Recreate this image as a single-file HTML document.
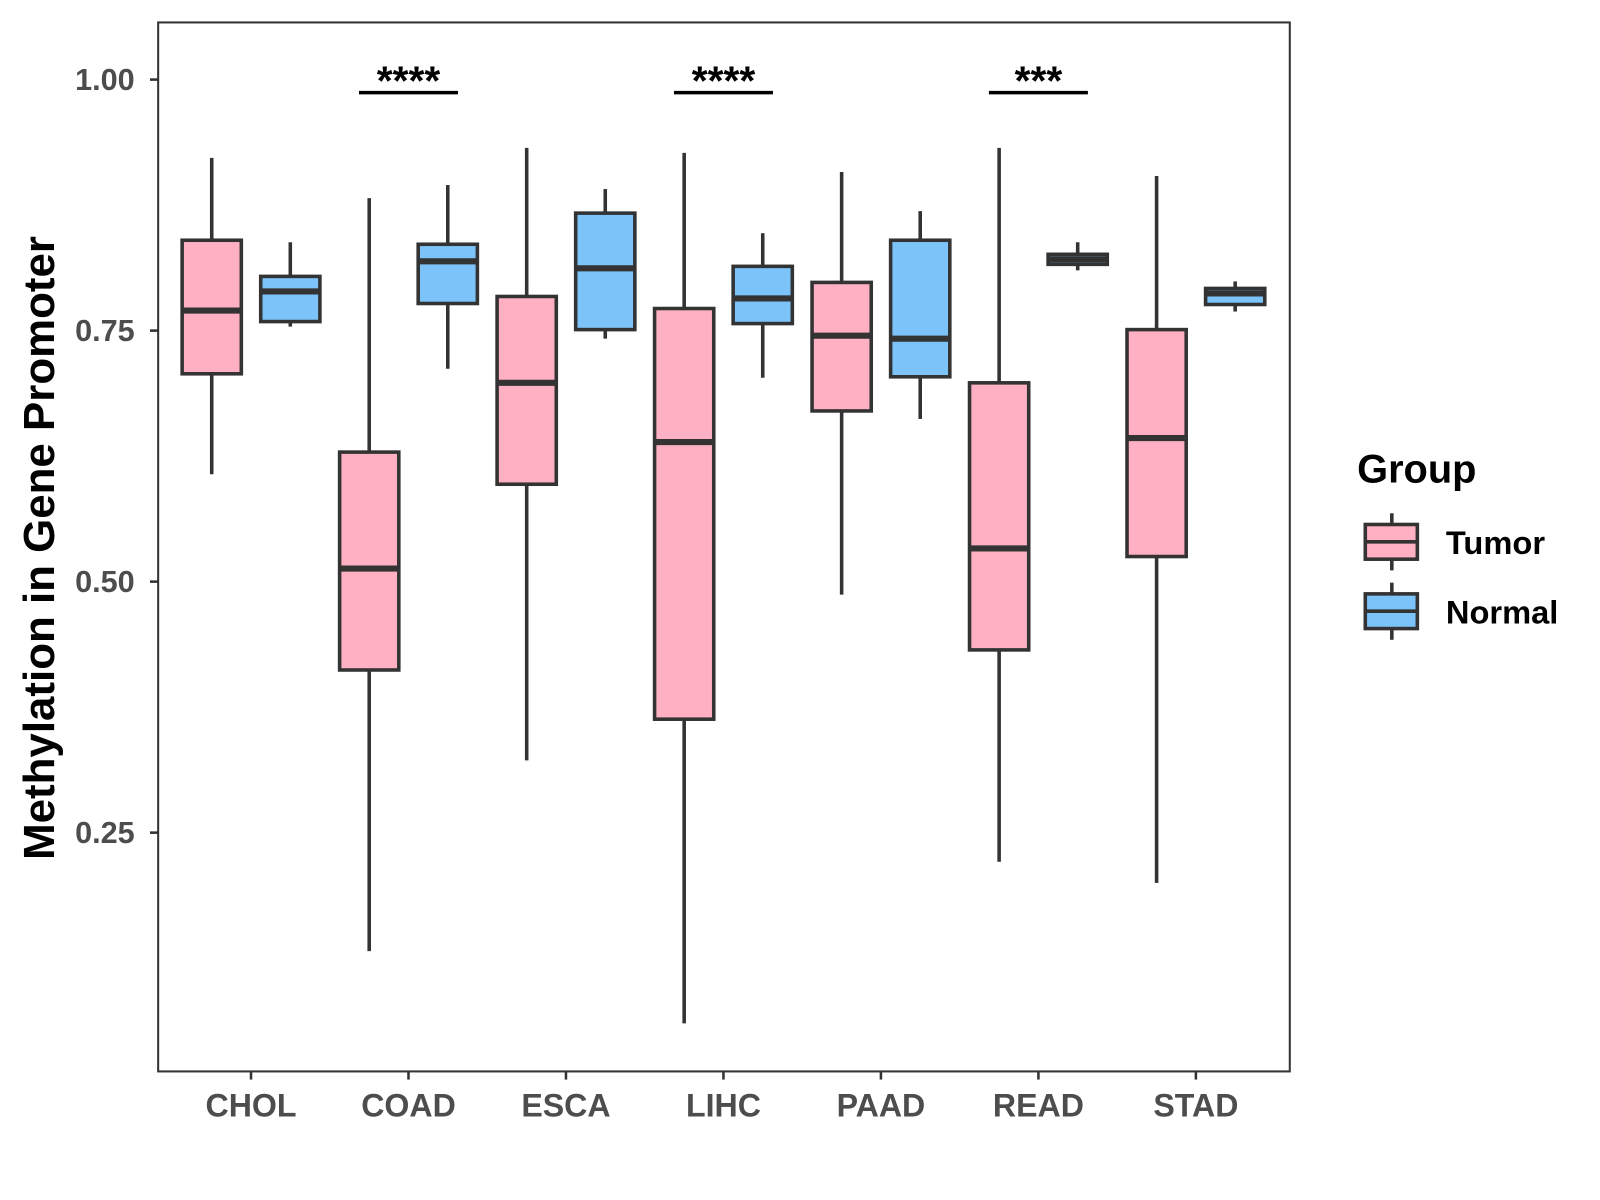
<!DOCTYPE html>
<html><head><meta charset="utf-8"><style>
html,body{margin:0;padding:0;background:#fff;}
svg{display:block;font-family:"Liberation Sans",Arial,sans-serif;}
</style></head><body>
<svg id="chart" width="1600" height="1200" viewBox="0 0 1600 1200">
<g transform="scale(1.0204)">
<rect x="155" y="22" width="1109" height="1028" fill="#fff" stroke="#333" stroke-width="2"/>
<g id="marks"></g>
<g id="axes"></g>
<text x="0" y="0" transform="translate(53,537) rotate(-90)" text-anchor="middle" font-size="43" font-weight="bold" fill="#000">Methylation in Gene Promoter</text>
<g>
<text x="1330" y="473" font-size="39" font-weight="bold" fill="#000">Group</text>
<g>
<line x1="1364" y1="503" x2="1364" y2="559" stroke="#333" stroke-width="3.5"/>
<rect x="1338" y="514" width="51" height="34" fill="#FFB0C3" stroke="#333" stroke-width="3.5"/>
<line x1="1338" y1="531" x2="1389" y2="531" stroke="#333" stroke-width="3.5"/>
<text x="1417" y="543" font-size="32" font-weight="bold" fill="#000">Tumor</text>
</g>
<g>
<line x1="1364" y1="571" x2="1364" y2="627" stroke="#333" stroke-width="3.5"/>
<rect x="1338" y="582" width="51" height="34" fill="#7BC3F8" stroke="#333" stroke-width="3.5"/>
<line x1="1338" y1="599" x2="1389" y2="599" stroke="#333" stroke-width="3.5"/>
<text x="1417" y="611" font-size="32" font-weight="bold" fill="#000">Normal</text>
</g>
</g>
</g>
</svg>
<script>
const categories = ["CHOL","COAD","ESCA","LIHC","PAAD","READ","STAD"];
// [min, Q1, median, Q3, max]
const tumorStats = [
 [0.607,0.707,0.770,0.840,0.922],
 [0.132,0.412,0.513,0.629,0.882],
 [0.322,0.597,0.698,0.784,0.932],
 [0.060,0.363,0.639,0.772,0.927],
 [0.487,0.670,0.745,0.798,0.908],
 [0.221,0.432,0.533,0.698,0.932],
 [0.200,0.525,0.643,0.751,0.904]
];
const normalStats = [
 [0.754,0.759,0.789,0.804,0.838],
 [0.712,0.777,0.819,0.836,0.895],
 [0.742,0.751,0.812,0.867,0.891],
 [0.703,0.757,0.782,0.814,0.847],
 [0.662,0.704,0.742,0.840,0.869],
 [0.810,0.816,0.821,0.826,0.838],
 [0.769,0.776,0.787,0.792,0.799]
];
const yTicks = [0.25,0.50,0.75,1.00];
const yTickLabels = ["0.25","0.50","0.75","1.00"];
const sigCategories = ["COAD","LIHC","READ"];
const sigLabels = ["****","****","***"];
const sigLevel = 0.987;

const NS="http://www.w3.org/2000/svg";
function yS(v){return 78+(1-v)*984;}
function xS(i){return 246+i*154.33;}
function mk(tag,attrs,parent){const e=document.createElementNS(NS,tag);for(const k in attrs)e.setAttribute(k,attrs[k]);parent.appendChild(e);return e;}
const marks=document.getElementById('marks'), axes=document.getElementById('axes');
function box(cx,s,fill,name){
 const g=mk('g',{},marks);
 
 
 const hw=29;
 mk('line',{x1:cx,x2:cx,y1:yS(s[4]),y2:yS(s[3]),stroke:'#333','stroke-width':3.5},g);
 mk('line',{x1:cx,x2:cx,y1:yS(s[1]),y2:yS(s[0]),stroke:'#333','stroke-width':3.5},g);
 mk('rect',{x:cx-hw,y:yS(s[3]),width:hw*2,height:Math.max(1,yS(s[1])-yS(s[3])),fill:fill,stroke:'#333','stroke-width':3.5},g);
 mk('line',{x1:cx-hw,x2:cx+hw,y1:yS(s[2]),y2:yS(s[2]),stroke:'#333','stroke-width':6},g);
}
categories.forEach((c,i)=>{
 box(xS(i)-38.5,tumorStats[i],'#FFB0C3','box-tumor-'+c.toLowerCase());
 box(xS(i)+38.5,normalStats[i],'#7BC3F8','box-normal-'+c.toLowerCase());
 mk('line',{x1:xS(i),x2:xS(i),y1:1050,y2:1058,stroke:'#333','stroke-width':2.5},axes);
 const t=mk('text',{x:xS(i),y:1094,'text-anchor':'middle','font-size':31.5,'font-weight':'bold',fill:'#4d4d4d'},axes);
 t.textContent=c;
 
 
});
yTicks.forEach((v,i)=>{
 mk('line',{x1:147,x2:155,y1:yS(v),y2:yS(v),stroke:'#333','stroke-width':2.5},axes);
 const t=mk('text',{x:132,y:yS(v)+10,'text-anchor':'end','font-size':30,'font-weight':'bold',fill:'#4d4d4d'},axes);
 t.textContent=yTickLabels[i];
 
 
});
sigCategories.forEach((c,k)=>{
 const i=categories.indexOf(c);
 const g=mk('g',{},marks);
 
 
 mk('line',{x1:xS(i)-48.5,x2:xS(i)+48.5,y1:yS(sigLevel),y2:yS(sigLevel),stroke:'#000','stroke-width':3.5},g);
 const t=mk('text',{x:xS(i),y:yS(sigLevel)+2,'text-anchor':'middle','font-size':40,'font-weight':'bold',fill:'#000'},g);
 t.textContent=sigLabels[k];
});
</script>
</body></html>
